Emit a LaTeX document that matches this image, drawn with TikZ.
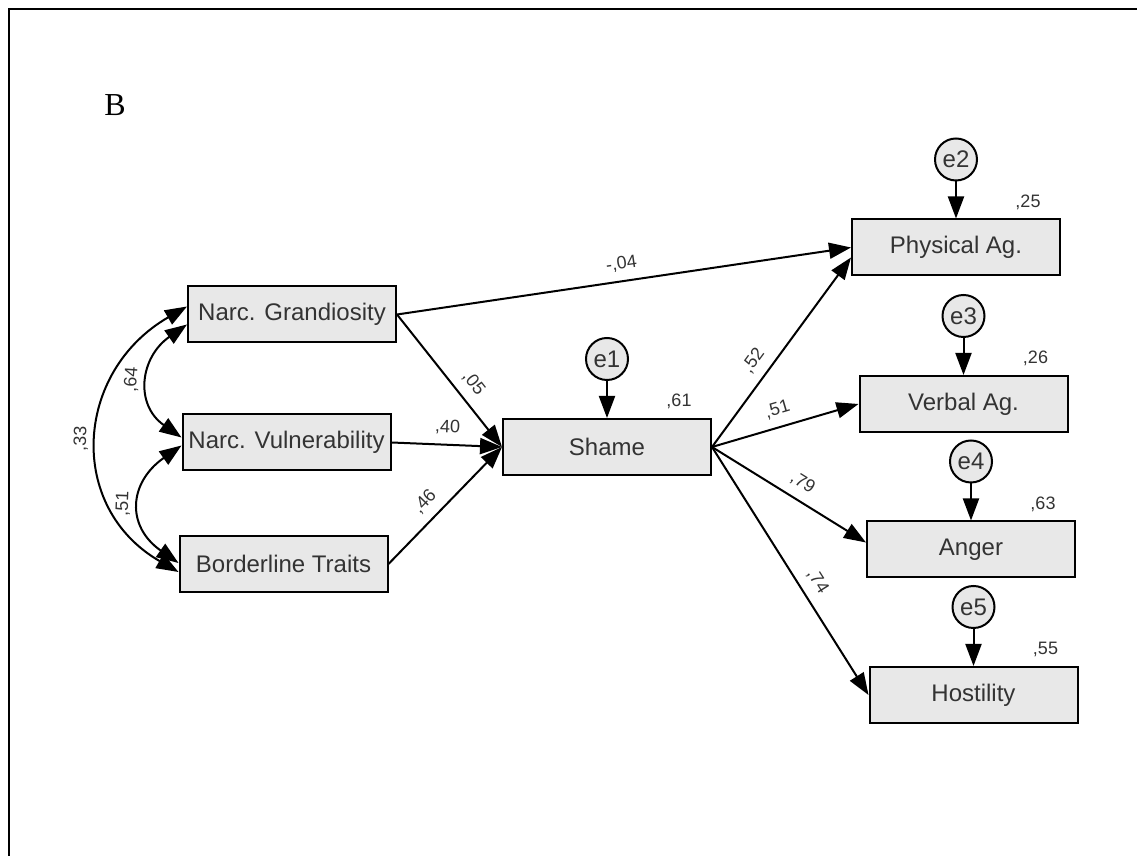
\documentclass[tikz,border=0pt]{standalone}
\usepackage{fontspec}
\setmainfont{Liberation Sans}
\newfontfamily\panelfont{Liberation Serif}
\usepackage{tikz}
\usetikzlibrary{arrows.meta,positioning,calc}
\definecolor{boxgray}{HTML}{E8E8E8}
\definecolor{inkgray}{HTML}{333333}
\tikzset{
  varbox/.style={draw,line width=1pt,fill=boxgray,minimum width=104pt,minimum height=28pt,
    inner xsep=2pt,text=inkgray,font=\fontsize{12}{14}\selectfont},
  errc/.style={draw,circle,line width=1pt,fill=boxgray,minimum size=21pt,inner sep=0pt,
    text=inkgray,font=\fontsize{12}{14}\selectfont},
  coef/.style={text=inkgray,inner sep=2pt,font=\fontsize{9}{10}\selectfont},
  wt/.style={coef,sloped,above=2.5pt},
  path/.style={->,line width=1pt},
  cov/.style={<->,line width=1pt}
}

\begin{document}
\begin{tikzpicture}[x=0.5pt,y=0.5pt,>={Triangle[length=11pt,width=8pt]}]
\useasboundingbox (0,0) rectangle (1137,856);
\draw[line width=1pt] (9,0) -- (9,846.5) -- (1137,846.5);
\node[font=\panelfont\fontsize{16}{18}\selectfont] (B) at (115,751) {B};

% exogenous variables
\node[varbox] (NG) at (292,541.5) {Narc. Grandiosity};
\node[varbox] (NV) at (286.5,413.5) {Narc. Vulnerability};
\node[varbox] (BT) at (283.5,292) {Borderline Traits};
% mediator
\node[varbox] (Shame) at (607,409) {Shame};
% outcomes
\node[varbox] (PA) at (956,608.5) {Physical Ag.};
\node[varbox] (VA) at (963.5,452) {Verbal Ag.};
\node[varbox] (AN) at (971,306.5) {Anger};
\node[varbox] (HO) at (973.5,161) {Hostility};

% error terms
\node[errc,above=18.5pt of Shame] (e1) {e1};
\node[errc,above=18.5pt of PA] (e2) {e2};
\node[errc,above=18.5pt of VA] (e3) {e3};
\node[errc,above=18.5pt of AN] (e4) {e4};
\node[errc,above=18.5pt of HO] (e5) {e5};
\draw[path] (e1) -- (Shame);
\draw[path] (e2) -- (PA);
\draw[path] (e3) -- (VA);
\draw[path] (e4) -- (AN);
\draw[path] (e5) -- (HO);

% explained variance
\node[coef] (r1) at ($(Shame.north east)+(-16.5pt,8.25pt)$) {,61};
\node[coef] (r2) at ($(PA.north east)+(-16.5pt,8.25pt)$) {,25};
\node[coef] (r3) at ($(VA.north east)+(-16.5pt,8.25pt)$) {,26};
\node[coef] (r4) at ($(AN.north east)+(-16.5pt,8.25pt)$) {,63};
\node[coef] (r5) at ($(HO.north east)+(-16.5pt,8.25pt)$) {,55};

% correlations
\draw[cov] ($(NV.west)+(0,2.5pt)$) to[out=145,in=215,looseness=1.3]
  node[wt,midway] {,64} ($(NG.west)+(0,-5pt)$);
\draw[cov] ($(BT.west)+(0,0.5pt)$) to[out=145,in=215,looseness=1.4]
  node[wt,midway] {,51} ($(NV.west)+(0,-1.5pt)$);
\draw[cov] ($(BT.west)+(0,-4pt)$) to[out=150,in=210,looseness=1.25]
  node[wt,midway] {,33} ($(NG.west)+(0,4pt)$);

% structural paths
\draw[path] (NG.east) -- node[wt,midway] {-,04} (PA.west);
\draw[path] (NG.east) -- node[wt,pos=0.6] {,05} (Shame.west);
\draw[path] (NV.east) -- node[wt,midway] {,40} (Shame.west);
\draw[path] (BT.east) -- node[wt,pos=0.43] {,46} (Shame.west);
\draw[path] (Shame.east) -- node[wt,pos=0.4] {,52} ($(PA.west)+(0,-5pt)$);
\draw[path] (Shame.east) -- node[wt,pos=0.48] {,51} (VA.west);
\draw[path] (Shame.east) -- node[wt,pos=0.53] {,79} ($(AN.west)+(0,3.5pt)$);
\draw[path] (Shame.east) -- node[wt,pos=0.58] {,74} (HO.west);
\end{tikzpicture}
\end{document}
